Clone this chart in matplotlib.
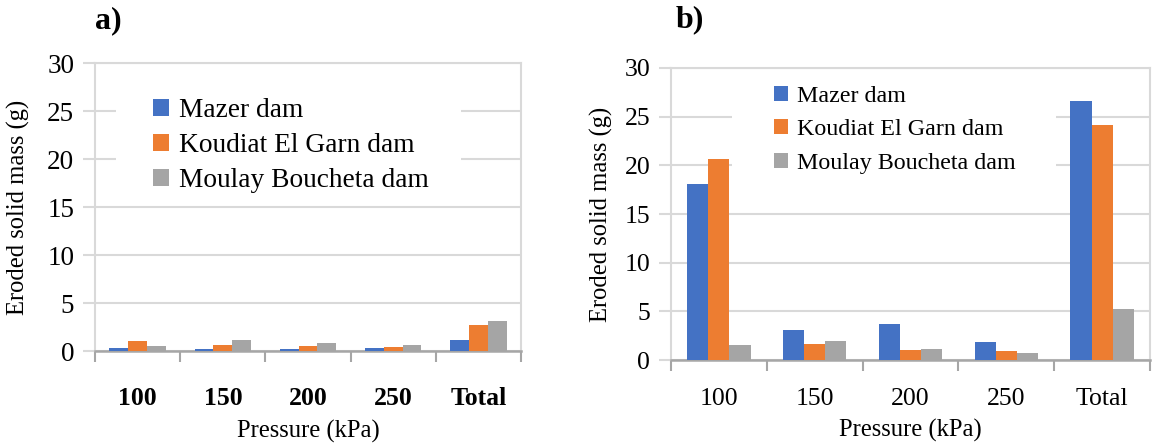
import numpy as np
import matplotlib
matplotlib.use("Agg")
import matplotlib.pyplot as plt
from matplotlib.patches import Rectangle

plt.rcParams["font.family"] = ["Liberation Serif", "DejaVu Serif"]

# data
categories = ["100", "150", "200", "250", "Total"]
series = ["Mazer dam", "Koudiat El Garn dam", "Moulay Boucheta dam"]
colors = ["#4472C4", "#ED7D31", "#A5A5A5"]

# panel a)
mazer_a = [0.28, 0.17, 0.24, 0.31, 1.11]
koudiat_a = [1.00, 0.66, 0.52, 0.38, 2.68]
moulay_a = [0.52, 1.18, 0.80, 0.59, 3.13]

# panel b)
mazer_b = [18.05, 3.08, 3.70, 1.85, 26.6]
koudiat_b = [20.6, 1.61, 1.06, 0.89, 24.1]
moulay_b = [1.54, 1.95, 1.13, 0.69, 5.24]

GRID = "#D9D9D9"
AXIS = "#A6A6A6"


def draw_panel(ax, data, style):
    x = np.arange(len(categories))
    w = 0.22
    for k, (vals, name, c) in enumerate(zip(data, series, colors)):
        ax.bar(x + (k - 1) * w, vals, width=w, color=c, label=name, zorder=3)

    ax.set_xlim(-0.5, len(categories) - 0.5)
    ax.set_ylim(0, 30)
    ax.set_yticks(np.arange(0, 31, 5))
    ax.yaxis.grid(True, color=GRID, linewidth=1.5, zorder=0)
    ax.set_axisbelow(True)

    for s in ["left", "right", "top"]:
        ax.spines[s].set_color(GRID)
        ax.spines[s].set_linewidth(1.5)
    ax.spines["bottom"].set_color(AXIS)
    ax.spines["bottom"].set_linewidth(1.8)

    ax.tick_params(axis="y", length=9, width=1.5, color=GRID, pad=6,
                   labelsize=style["ytick"])
    # category labels centred, tick marks between categories
    ax.set_xticks(x)
    ax.set_xticklabels(categories, fontsize=style["xtick"],
                       fontweight=style["xweight"])
    ax.tick_params(axis="x", which="major", length=0, pad=style["xpad"])
    ax.set_xticks(np.arange(-0.5, len(categories), 1.0), minor=True)
    ax.tick_params(axis="x", which="minor", length=8, width=1.5, color=AXIS)

    ax.set_xlabel("Pressure (kPa)", fontsize=style["label"],
                  labelpad=style["xlabelpad"])
    ax.set_ylabel("Eroded solid mass (g)", fontsize=style["label"],
                  labelpad=style["ylabelpad"])

    # white patch behind the legend, hides the grid like the original
    x0, x1, y0, y1 = style["legbox"]
    ax.add_patch(Rectangle((x0, y0), x1 - x0, y1 - y0, transform=ax.transAxes,
                           facecolor="white", edgecolor="none", zorder=1))
    ax.legend(loc="upper left", bbox_to_anchor=style["leganchor"],
              fontsize=style["legend"], frameon=False,
              handlelength=0.6, handleheight=0.6, handletextpad=0.35,
              labelspacing=style["legspacing"], borderpad=0, borderaxespad=0)


fig = plt.figure(figsize=(11.53, 4.45), dpi=100)
ax_a = fig.add_axes([0.0824, 0.2112, 0.3695, 0.6472])
ax_b = fig.add_axes([0.582, 0.191, 0.4154, 0.6562])

style_a = dict(ytick=19.5, xtick=18.5, xweight="bold", xpad=26, label=17.7,
               xlabelpad=7, ylabelpad=12, legend=19.7, legspacing=0.37,
               leganchor=(0.136, 0.878), legbox=(0.05, 0.86, 0.53, 0.95))
style_b = dict(ytick=18.5, xtick=18.5, xweight="normal", xpad=20.5, label=17.7,
               xlabelpad=6, ylabelpad=8, legend=17.3, legspacing=0.52,
               leganchor=(0.215, 0.94), legbox=(0.127, 0.804, 0.53, 0.95))

draw_panel(ax_a, [mazer_a, koudiat_a, moulay_a], style_a)
draw_panel(ax_b, [mazer_b, koudiat_b, moulay_b], style_b)

fig.text(108 / 1153, 1 - 21 / 445, "a)", fontsize=23, fontweight="bold",
         ha="center", va="center")
fig.text(690 / 1153, 1 - 20 / 445, "b)", fontsize=23, fontweight="bold",
         ha="center", va="center")

fig.savefig("out.png", dpi=100)
